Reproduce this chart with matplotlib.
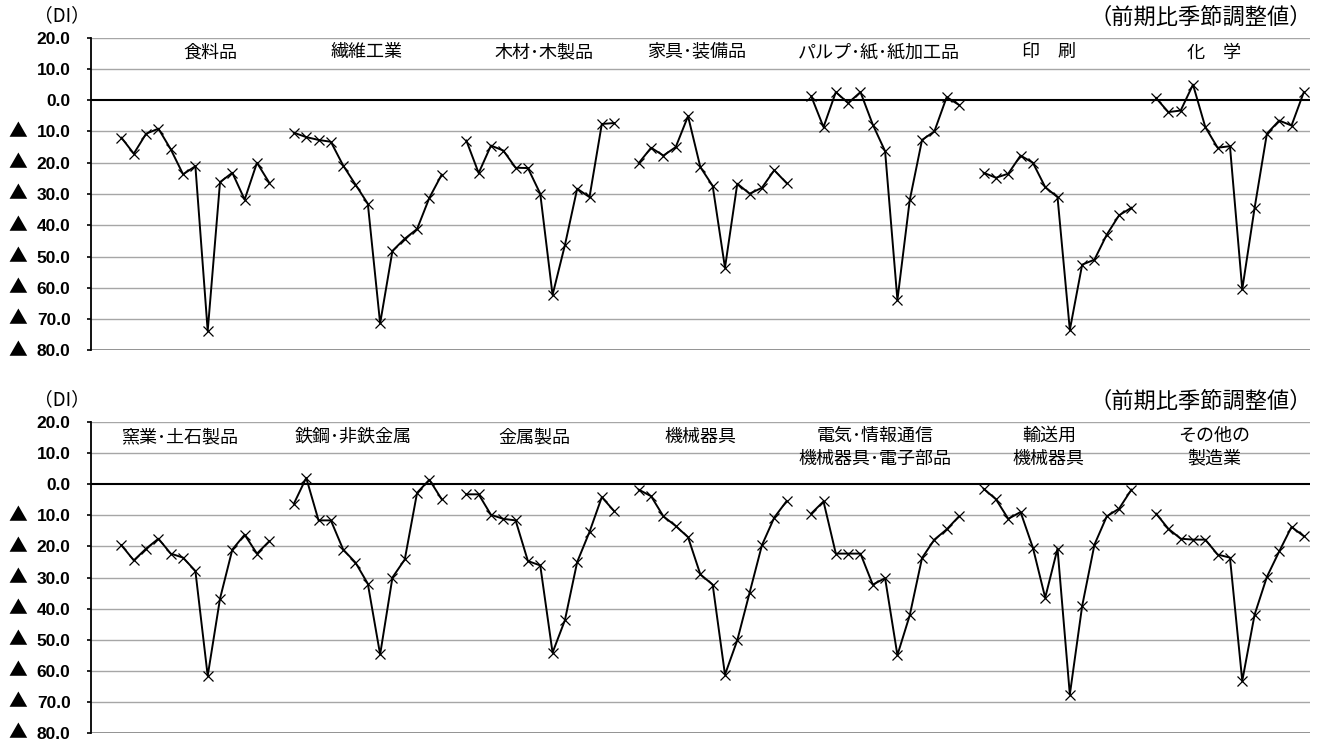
import matplotlib
matplotlib.use("Agg")
import matplotlib.pyplot as plt
import matplotlib.transforms as mtrans
import numpy as np

plt.rcParams['font.family'] = ['Noto Sans CJK JP', 'DejaVu Sans']

# ---------------- data ----------------
top_names = ["食料品", "繊維工業", "木材･木製品", "家具･装備品",
             "パルプ･紙･紙加工品", "印　刷", "化　学"]
food = [-12.0, -17.1, -10.7, -9.1, -15.7, -23.7, -21.1, -73.8, -26.2, -23.2, -31.8, -20.0, -26.4]
textile = [-10.4, -11.8, -12.7, -13.3, -20.9, -27.0, -33.1, -71.4, -48.2, -44.3, -41.2, -31.2, -23.8]
wood = [-12.9, -23.3, -14.5, -16.1, -21.6, -21.7, -29.9, -62.3, -46.4, -28.3, -31.0, -7.6, -7.3]
furniture = [-20.1, -15.2, -17.7, -15.0, -5.1, -21.4, -27.4, -53.6, -26.7, -29.9, -28.0, -22.4, -26.5]
pulp = [1.3, -8.6, 2.6, -0.9, 2.6, -7.8, -16.3, -63.9, -32.0, -12.7, -10.0, 1.0, -1.5]
printing = [-23.2, -24.8, -23.5, -17.7, -20.0, -27.8, -31.0, -73.5, -52.6, -51.0, -43.0, -36.8, -34.4]
chemical = [0.7, -3.8, -3.3, 5.0, -8.6, -15.2, -14.7, -60.5, -34.5, -10.7, -6.5, -8.1, 2.6]

bottom_names = ["窯業･土石製品", "鉄鋼･非鉄金属", "金属製品", "機械器具",
                "電気･情報通信\n機械器具･電子部品", "輸送用\n機械器具", "その他の\n製造業"]
ceramics = [-19.6, -24.5, -20.7, -17.5, -22.3, -23.6, -27.9, -61.7, -36.8, -21.0, -16.2, -22.3, -18.3]
steel = [-6.2, 2.1, -11.6, -11.6, -21.0, -25.2, -32.0, -54.8, -30.0, -24.2, -2.7, 1.5, -4.8]
metal = [-3.2, -3.2, -9.8, -11.1, -11.6, -24.7, -26.1, -54.2, -43.8, -25.0, -15.3, -4.1, -8.6]
machinery = [-1.7, -3.8, -10.3, -13.4, -17.0, -29.0, -32.3, -61.3, -50.2, -34.9, -19.6, -10.7, -5.4]
electrical = [-9.4, -5.5, -22.3, -22.3, -22.3, -32.3, -30.2, -55.0, -42.2, -23.7, -17.8, -14.5, -10.3]
transport = [-1.4, -4.8, -11.1, -8.9, -20.4, -36.5, -20.7, -67.7, -39.2, -19.4, -10.3, -7.8, -1.7]
other = [-9.4, -14.3, -17.5, -17.8, -17.8, -22.6, -23.6, -63.3, -42.0, -29.8, -21.6, -13.7, -16.7]

top_series = [food, textile, wood, furniture, pulp, printing, chemical]
bottom_series = [ceramics, steel, metal, machinery, electrical, transport, other]

y_ticks = [20, 10, 0, -10, -20, -30, -40, -50, -60, -70, -80]
y_tick_labels = ["20.0", "10.0", "0.0", "▲ 10.0", "▲ 20.0", "▲ 30.0", "▲ 40.0",
                 "▲ 50.0", "▲ 60.0", "▲ 70.0", "▲ 80.0"]

unit_left = "（DI）"
unit_right = "（前期比季節調整値）"

# ---------------- layout ----------------
W, H = 1317, 744
fig = plt.figure(figsize=(W / 100, H / 100), dpi=100)

# label x-positions (in category units)
top_label_x = [7.2, 19.9, 34.3, 46.7, 61.5, 75.3, 88.7]
bottom_label_x = [4.7, 18.8, 33.5, 47.0, 61.2, 75.3, 88.7]

GROUP = 13
STEP = GROUP + 1


def draw_panel(ax, series, names, label_x):
    for g, vals in enumerate(series):
        x = g * STEP + np.arange(len(vals))
        ax.plot(x, vals, color='black', lw=1.4, marker='x', ms=7, mew=0.9,
                mec='black', zorder=3, clip_on=False)
    ax.set_xlim(-2.5, 96.5)
    ax.set_ylim(-80, 20)
    ax.set_yticks(y_ticks)
    nums = [s.replace("▲", "").strip() for s in y_tick_labels]
    ax.set_yticklabels(nums, fontfamily='Liberation Sans', fontweight='bold',
                       fontsize=12.5)
    ax.set_xticks([])
    for yv in y_ticks:
        if yv == 0:
            ax.axhline(0, color='black', lw=1.5, zorder=2)
        elif yv == -80:
            ax.axhline(yv, color='#808080', lw=1.2, zorder=1)
        else:
            ax.axhline(yv, color='#a6a6a6', lw=1.0, zorder=1)
    for s in ['top', 'right', 'bottom']:
        ax.spines[s].set_visible(False)
    ax.spines['left'].set_color('black')
    ax.spines['left'].set_linewidth(1.3)
    ax.tick_params(axis='y', direction='out', length=3, width=1.2, pad=11.5,
                   colors='black')
    # triangle signs of negative tick labels
    tr = mtrans.blended_transform_factory(fig.transFigure, ax.transData)
    for yv, s in zip(y_ticks, y_tick_labels):
        if s.startswith("▲"):
            ax.text(17.5 / W, yv, "▲", transform=tr, ha='center', va='center',
                    fontsize=13.5, color='black', fontfamily=['Noto Sans CJK JP'])
    for name, lx in zip(names, label_x):
        if "\n" in name:
            ax.text(lx, 12.0, name, ha='center', va='center', fontsize=13,
                    linespacing=1.38, zorder=4)
        else:
            ax.text(lx, 15.3, name, ha='center', va='center', fontsize=13, zorder=4)


ax1 = fig.add_axes([90.7 / W, 1 - 350.3 / H, (1310 - 90.7) / W, (350.3 - 37.7) / H])
ax2 = fig.add_axes([90.7 / W, 1 - 732.7 / H, (1310 - 90.7) / W, (732.7 - 422.3) / H])

draw_panel(ax1, top_series, top_names, top_label_x)
draw_panel(ax2, bottom_series, bottom_names, bottom_label_x)

for yc in (16, 400):
    fig.text(62 / W, 1 - yc / H, unit_left, ha='center', va='center', fontsize=13.5)
for yc in (17, 401):
    fig.text(1312 / W, 1 - yc / H, unit_right, ha='right', va='center', fontsize=16)

fig.savefig("out.png", dpi=100)
